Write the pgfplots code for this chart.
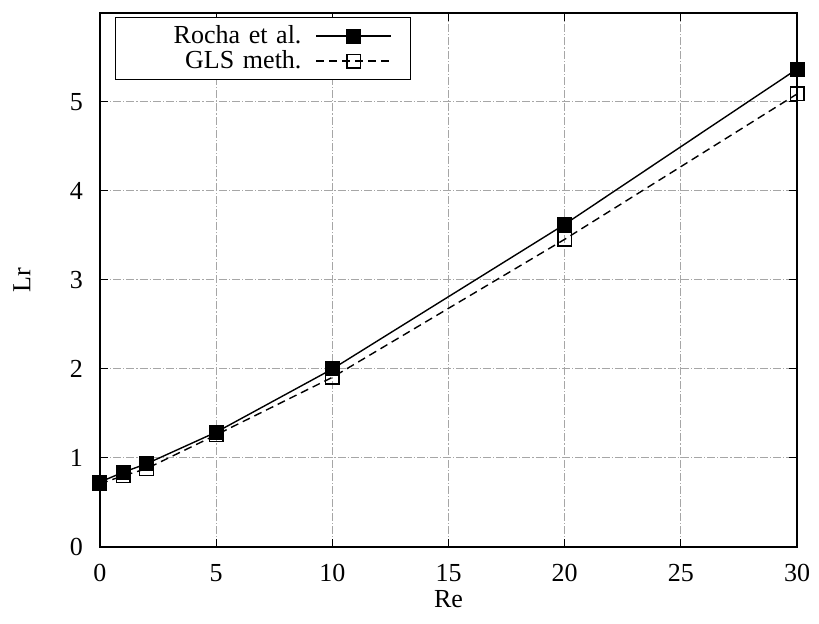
\documentclass[border=0pt]{standalone}
\usepackage{fontspec}
\setmainfont{Liberation Serif}
\usepackage{pgfplots}
\pgfplotsset{compat=1.18}
\begin{document}
\begin{tikzpicture}
\begin{axis}[
  scale only axis,
  width=348.5pt, height=267pt,
  xmin=0, xmax=30, ymin=0, ymax=6,
  xtick={0,5,...,30}, ytick={0,1,...,5},
  /pgf/number format/assume math mode=true,
  font=\fontsize{13pt}{14pt}\selectfont,
  tick label style={font=\fontsize{13pt}{14pt}\selectfont},
  xlabel={Re}, ylabel={Lr},
  xlabel style={at={(axis description cs:0.5,0)}, anchor=center, yshift=-26pt},
  ylabel style={at={(axis description cs:-0.112,0.5)}, anchor=center},
  xticklabel style={yshift=-5pt},
  yticklabel style={xshift=-5pt},
  grid=major,
  grid style={gray!70, line width=0.5pt, dash pattern=on 4pt off 1pt on 0.6pt off 1pt},
  tick align=inside,
  major tick length=4pt,
  tick style={black, line width=0.5pt},
  axis line style={line width=0.6pt},
  legend cell align=right,
  legend plot pos=right,
  legend style={at={(rel axis cs:0.0215,0.9925)}, anchor=north west,
    draw=black, line width=0.5pt, inner xsep=3pt, inner ysep=2pt, row sep=-2pt,
    font=\fontsize{13pt}{13.5pt}\selectfont,
    nodes={text width=88pt, align=right}},
  legend image code/.code={
    \path (0pt,0pt) (49pt,0pt);
    \draw[mark repeat=2,mark phase=2,#1]
      plot coordinates {(5pt,0pt) (23.75pt,0pt) (42.5pt,0pt)};},
]
\addplot[black, line width=0.7pt, mark=square*, mark size=3.4pt, mark options={solid}]
  coordinates {(0,0.73) (1,0.84) (2,0.935) (5,1.29) (10,2.0) (20,3.625) (30,5.37)};
\addlegendentry{Rocha et al.}
\addplot[black, line width=0.7pt, dash pattern=on 4pt off 2.5pt, mark=square, mark size=3.4pt, mark options={solid, fill=white}]
  coordinates {(0,0.71) (1,0.80) (2,0.88) (5,1.26) (10,1.906) (20,3.457) (30,5.09)};
\addlegendentry{GLS meth.}
\end{axis}
\path (current axis.south west) ++(-50pt,-38.5pt) rectangle ++(409.5pt,312pt);
\end{tikzpicture}
\end{document}
